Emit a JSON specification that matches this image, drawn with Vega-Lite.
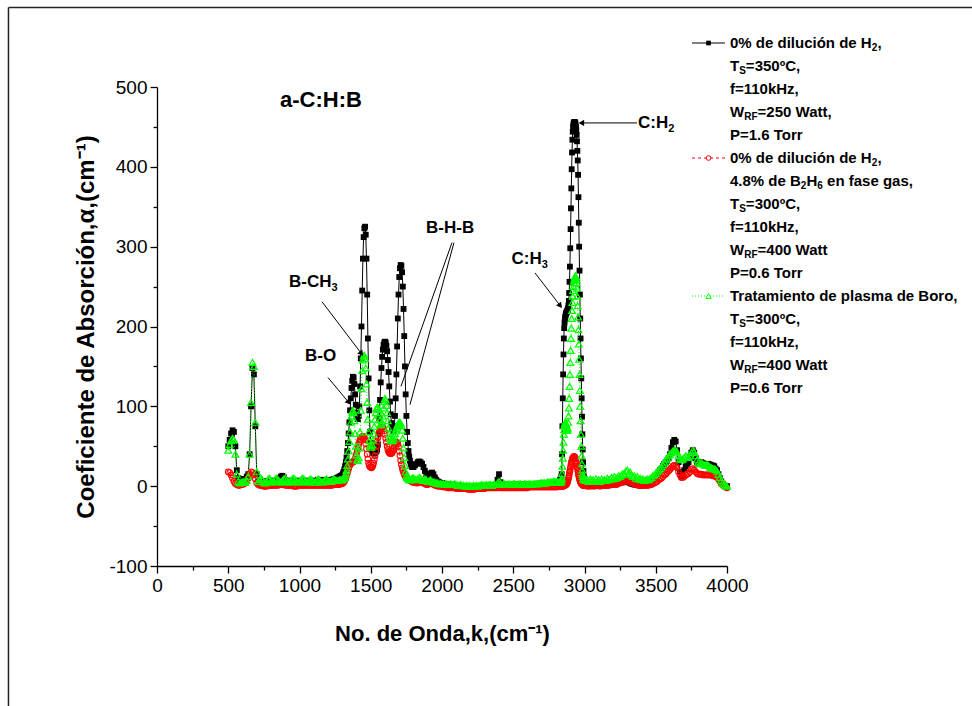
{
  "$schema": "https://vega.github.io/schema/vega-lite/v6.json",
  "width": 570,
  "height": 479,
  "autosize": {"type": "none"},
  "padding": {"left": 157, "top": 87, "right": 245, "bottom": 140},
  "background": "white",
  "config": {
    "font": "Liberation Sans",
    "view": {"stroke": null},
    "text": {"color": "black"}
  },
  "resolve": {"scale": {"x": "independent", "y": "independent"}},
  "datasets": {
    "spectra": [
      {"k":500,"b":50,"r":18,"g":45},{"k":510,"b":58,"r":17,"g":52},{"k":520,"b":66,"r":14,"g":57},{"k":530,"b":70,"r":10,"g":60},
      {"k":540,"b":68,"r":6,"g":58},{"k":550,"b":50,"r":3,"g":40},{"k":560,"b":20,"r":2,"g":15},{"k":570,"b":10,"r":1,"g":6},
      {"k":580,"b":8,"r":1,"g":4},{"k":590,"b":9,"r":2,"g":5},{"k":600,"b":9,"r":2,"g":5},{"k":610,"b":8,"r":3,"g":6},
      {"k":620,"b":9,"r":4,"g":5},{"k":630,"b":12,"r":6,"g":7},{"k":640,"b":15,"r":10,"g":12},{"k":650,"b":40,"r":15,"g":40},
      {"k":660,"b":100,"r":18,"g":105},{"k":670,"b":148,"r":17,"g":155},{"k":680,"b":140,"r":14,"g":150},{"k":690,"b":75,"r":9,"g":80},
      {"k":700,"b":15,"r":4,"g":18},{"k":710,"b":6,"r":2,"g":6},{"k":720,"b":5,"r":1,"g":8},{"k":730,"b":5,"r":1,"g":10},
      {"k":740,"b":6,"r":1,"g":8},{"k":750,"b":5,"r":0,"g":5},{"k":760,"b":5,"r":0,"g":4},{"k":770,"b":6,"r":0,"g":6},
      {"k":780,"b":6,"r":1,"g":9},{"k":790,"b":5,"r":1,"g":10},{"k":800,"b":6,"r":1,"g":7},{"k":810,"b":7,"r":1,"g":5},
      {"k":820,"b":6,"r":1,"g":6},{"k":830,"b":6,"r":1,"g":9},{"k":840,"b":7,"r":1,"g":10},{"k":850,"b":8,"r":1,"g":8},
      {"k":860,"b":10,"r":2,"g":6},{"k":870,"b":12,"r":2,"g":5},{"k":880,"b":13,"r":2,"g":7},{"k":890,"b":11,"r":2,"g":9},
      {"k":900,"b":8,"r":1,"g":10},{"k":910,"b":6,"r":1,"g":8},{"k":920,"b":5,"r":1,"g":6},{"k":930,"b":6,"r":1,"g":5},
      {"k":940,"b":7,"r":1,"g":7},{"k":950,"b":6,"r":1,"g":9},{"k":960,"b":5,"r":0,"g":10},{"k":970,"b":5,"r":0,"g":8},
      {"k":980,"b":6,"r":0,"g":6},{"k":990,"b":7,"r":1,"g":5},{"k":1000,"b":6,"r":1,"g":6},{"k":1010,"b":5,"r":1,"g":8},
      {"k":1020,"b":5,"r":1,"g":10},{"k":1030,"b":6,"r":1,"g":9},{"k":1040,"b":7,"r":1,"g":7},{"k":1050,"b":6,"r":1,"g":5},
      {"k":1060,"b":5,"r":1,"g":6},{"k":1070,"b":6,"r":1,"g":8},{"k":1080,"b":7,"r":1,"g":9},{"k":1090,"b":6,"r":1,"g":7},
      {"k":1100,"b":5,"r":1,"g":5},{"k":1110,"b":6,"r":1,"g":5},{"k":1120,"b":7,"r":1,"g":7},{"k":1130,"b":8,"r":1,"g":9},
      {"k":1140,"b":7,"r":1,"g":8},{"k":1150,"b":6,"r":1,"g":6},{"k":1160,"b":7,"r":1,"g":5},{"k":1170,"b":8,"r":1,"g":6},
      {"k":1180,"b":7,"r":1,"g":8},{"k":1190,"b":6,"r":1,"g":9},{"k":1200,"b":7,"r":1,"g":7},{"k":1210,"b":8,"r":1,"g":6},
      {"k":1220,"b":7,"r":1,"g":6},{"k":1230,"b":8,"r":1,"g":8},{"k":1240,"b":9,"r":2,"g":9},{"k":1250,"b":9,"r":2,"g":8},
      {"k":1260,"b":10,"r":2,"g":7},{"k":1270,"b":11,"r":2,"g":7},{"k":1280,"b":12,"r":2,"g":8},{"k":1290,"b":13,"r":3,"g":8},
      {"k":1300,"b":14,"r":3,"g":8},{"k":1305,"b":16,"r":4,"g":9},{"k":1310,"b":18,"r":5,"g":10},{"k":1315,"b":21,"r":6,"g":11},
      {"k":1320,"b":25,"r":8,"g":13},{"k":1325,"b":30,"r":10,"g":16},{"k":1330,"b":36,"r":13,"g":20},{"k":1335,"b":44,"r":16,"g":26},
      {"k":1340,"b":54,"r":19,"g":34},{"k":1345,"b":66,"r":22,"g":44},{"k":1350,"b":80,"r":25,"g":56},{"k":1355,"b":95,"r":27,"g":68},
      {"k":1360,"b":110,"r":29,"g":80},{"k":1365,"b":123,"r":30,"g":88},{"k":1370,"b":132,"r":30,"g":93},{"k":1375,"b":137,"r":30,"g":95},
      {"k":1380,"b":136,"r":31,"g":92},{"k":1385,"b":128,"r":32,"g":82},{"k":1390,"b":115,"r":34,"g":66},{"k":1395,"b":102,"r":37,"g":50},
      {"k":1400,"b":92,"r":40,"g":39},{"k":1405,"b":86,"r":44,"g":33},{"k":1410,"b":84,"r":48,"g":32},{"k":1415,"b":88,"r":52,"g":36},
      {"k":1420,"b":100,"r":55,"g":48},{"k":1425,"b":125,"r":58,"g":68},{"k":1430,"b":160,"r":60,"g":95},{"k":1435,"b":200,"r":61,"g":122},
      {"k":1440,"b":245,"r":62,"g":145},{"k":1445,"b":285,"r":62,"g":158},{"k":1450,"b":312,"r":62,"g":163},{"k":1455,"b":323,"r":61,"g":164},
      {"k":1460,"b":325,"r":58,"g":160},{"k":1465,"b":315,"r":53,"g":148},{"k":1470,"b":285,"r":47,"g":128},{"k":1475,"b":240,"r":40,"g":105},
      {"k":1480,"b":185,"r":34,"g":84},{"k":1485,"b":135,"r":29,"g":68},{"k":1490,"b":95,"r":26,"g":57},{"k":1495,"b":68,"r":24,"g":51},
      {"k":1500,"b":54,"r":24,"g":49},{"k":1505,"b":47,"r":23,"g":49},{"k":1510,"b":44,"r":24,"g":52},{"k":1515,"b":42,"r":26,"g":58},
      {"k":1520,"b":41,"r":29,"g":66},{"k":1525,"b":41,"r":33,"g":75},{"k":1530,"b":42,"r":38,"g":84},{"k":1535,"b":43,"r":44,"g":92},
      {"k":1540,"b":44,"r":50,"g":97},{"k":1545,"b":46,"r":56,"g":99},{"k":1550,"b":52,"r":61,"g":99},{"k":1555,"b":65,"r":65,"g":96},
      {"k":1560,"b":85,"r":68,"g":90},{"k":1565,"b":108,"r":71,"g":83},{"k":1570,"b":130,"r":73,"g":78},{"k":1575,"b":148,"r":74,"g":77},
      {"k":1580,"b":162,"r":74,"g":80},{"k":1585,"b":171,"r":74,"g":88},{"k":1590,"b":177,"r":72,"g":98},{"k":1595,"b":180,"r":69,"g":106},
      {"k":1600,"b":181,"r":65,"g":110},{"k":1605,"b":180,"r":60,"g":108},{"k":1610,"b":176,"r":55,"g":101},{"k":1615,"b":169,"r":50,"g":92},
      {"k":1620,"b":158,"r":46,"g":82},{"k":1625,"b":143,"r":43,"g":73},{"k":1630,"b":125,"r":42,"g":66},{"k":1635,"b":106,"r":41,"g":61},
      {"k":1640,"b":90,"r":41,"g":58},{"k":1645,"b":79,"r":41,"g":57},{"k":1650,"b":72,"r":42,"g":57},{"k":1655,"b":69,"r":44,"g":58},
      {"k":1660,"b":70,"r":47,"g":60},{"k":1665,"b":75,"r":50,"g":63},{"k":1670,"b":88,"r":52,"g":66},{"k":1675,"b":110,"r":54,"g":69},
      {"k":1680,"b":140,"r":55,"g":72},{"k":1685,"b":175,"r":55,"g":75},{"k":1690,"b":210,"r":53,"g":77},{"k":1695,"b":240,"r":49,"g":79},
      {"k":1700,"b":262,"r":44,"g":80},{"k":1705,"b":273,"r":38,"g":80},{"k":1710,"b":277,"r":32,"g":79},{"k":1715,"b":276,"r":27,"g":76},
      {"k":1720,"b":268,"r":23,"g":70},{"k":1725,"b":250,"r":20,"g":60},{"k":1730,"b":222,"r":17,"g":48},{"k":1735,"b":188,"r":15,"g":36},
      {"k":1740,"b":150,"r":13,"g":26},{"k":1745,"b":115,"r":12,"g":18},{"k":1750,"b":88,"r":11,"g":13},{"k":1755,"b":68,"r":10,"g":11},
      {"k":1760,"b":54,"r":9,"g":10},{"k":1765,"b":44,"r":8,"g":9},{"k":1770,"b":37,"r":8,"g":8},{"k":1775,"b":32,"r":7,"g":8},
      {"k":1780,"b":28,"r":7,"g":8},{"k":1785,"b":26,"r":6,"g":9},{"k":1790,"b":24,"r":6,"g":10},{"k":1795,"b":24,"r":5,"g":10},
      {"k":1800,"b":24,"r":5,"g":10},{"k":1810,"b":26,"r":5,"g":9},{"k":1820,"b":28,"r":4,"g":8},{"k":1830,"b":30,"r":4,"g":9},
      {"k":1840,"b":31,"r":5,"g":11},{"k":1850,"b":30,"r":6,"g":10},{"k":1860,"b":28,"r":5,"g":8},{"k":1870,"b":24,"r":4,"g":7},
      {"k":1880,"b":19,"r":3,"g":9},{"k":1890,"b":15,"r":2,"g":8},{"k":1900,"b":13,"r":2,"g":6},{"k":1910,"b":14,"r":3,"g":7},
      {"k":1920,"b":16,"r":4,"g":8},{"k":1930,"b":17,"r":3,"g":6},{"k":1940,"b":15,"r":2,"g":5},{"k":1950,"b":11,"r":1,"g":5},
      {"k":1960,"b":8,"r":1,"g":4},{"k":1970,"b":6,"r":0,"g":4},{"k":1980,"b":5,"r":0,"g":3},{"k":1990,"b":4,"r":0,"g":3},
      {"k":2000,"b":4,"r":0,"g":3},{"k":2010,"b":3,"r":-1,"g":3},{"k":2020,"b":3,"r":-1,"g":2},{"k":2030,"b":2,"r":-1,"g":3},
      {"k":2040,"b":2,"r":-2,"g":2},{"k":2050,"b":2,"r":-2,"g":2},{"k":2060,"b":2,"r":-2,"g":3},{"k":2070,"b":1,"r":-2,"g":2},
      {"k":2080,"b":1,"r":-2,"g":2},{"k":2090,"b":1,"r":-2,"g":3},{"k":2100,"b":1,"r":-3,"g":2},{"k":2110,"b":0,"r":-3,"g":1},
      {"k":2120,"b":0,"r":-3,"g":1},{"k":2130,"b":0,"r":-3,"g":2},{"k":2140,"b":0,"r":-3,"g":1},{"k":2150,"b":-1,"r":-3,"g":1},
      {"k":2160,"b":-1,"r":-3,"g":0},{"k":2170,"b":-1,"r":-3,"g":1},{"k":2180,"b":-1,"r":-4,"g":0},{"k":2190,"b":-1,"r":-4,"g":1},
      {"k":2200,"b":-1,"r":-4,"g":0},{"k":2210,"b":-1,"r":-4,"g":0},{"k":2220,"b":-1,"r":-4,"g":1},{"k":2230,"b":-1,"r":-4,"g":0},
      {"k":2240,"b":-1,"r":-3,"g":1},{"k":2250,"b":-1,"r":-3,"g":0},{"k":2260,"b":0,"r":-3,"g":1},{"k":2270,"b":0,"r":-3,"g":1},
      {"k":2280,"b":0,"r":-3,"g":2},{"k":2290,"b":0,"r":-3,"g":1},{"k":2300,"b":0,"r":-3,"g":1},{"k":2310,"b":0,"r":-2,"g":2},
      {"k":2320,"b":0,"r":-2,"g":1},{"k":2330,"b":1,"r":-2,"g":2},{"k":2340,"b":1,"r":-2,"g":2},{"k":2350,"b":1,"r":-2,"g":1},
      {"k":2360,"b":1,"r":-2,"g":2},{"k":2370,"b":1,"r":-2,"g":2},{"k":2380,"b":2,"r":-2,"g":2},{"k":2390,"b":8,"r":-2,"g":4},
      {"k":2400,"b":15,"r":-1,"g":6},{"k":2410,"b":5,"r":-2,"g":4},{"k":2420,"b":2,"r":-2,"g":2},{"k":2430,"b":2,"r":-2,"g":2},
      {"k":2440,"b":2,"r":-2,"g":3},{"k":2450,"b":2,"r":-2,"g":2},{"k":2460,"b":1,"r":-2,"g":2},{"k":2470,"b":1,"r":-2,"g":3},
      {"k":2480,"b":2,"r":-2,"g":2},{"k":2490,"b":2,"r":-2,"g":2},{"k":2500,"b":2,"r":-2,"g":3},{"k":2510,"b":2,"r":-2,"g":3},
      {"k":2520,"b":2,"r":-2,"g":2},{"k":2530,"b":1,"r":-2,"g":2},{"k":2540,"b":2,"r":-2,"g":3},{"k":2550,"b":2,"r":-2,"g":3},
      {"k":2560,"b":2,"r":-2,"g":2},{"k":2570,"b":2,"r":-2,"g":2},{"k":2580,"b":2,"r":-2,"g":3},{"k":2590,"b":2,"r":-2,"g":3},
      {"k":2600,"b":2,"r":-2,"g":2},{"k":2610,"b":2,"r":-1,"g":3},{"k":2620,"b":2,"r":-1,"g":3},{"k":2630,"b":2,"r":-1,"g":2},
      {"k":2640,"b":2,"r":-1,"g":3},{"k":2650,"b":2,"r":-1,"g":3},{"k":2660,"b":2,"r":-1,"g":3},{"k":2670,"b":3,"r":-1,"g":3},
      {"k":2680,"b":3,"r":-1,"g":3},{"k":2690,"b":3,"r":-1,"g":4},{"k":2700,"b":3,"r":-1,"g":4},{"k":2710,"b":3,"r":-1,"g":4},
      {"k":2720,"b":3,"r":-1,"g":4},{"k":2730,"b":3,"r":-1,"g":4},{"k":2740,"b":3,"r":-1,"g":5},{"k":2750,"b":3,"r":-1,"g":5},
      {"k":2760,"b":3,"r":-1,"g":5},{"k":2770,"b":3,"r":-1,"g":5},{"k":2780,"b":3,"r":-1,"g":6},{"k":2790,"b":3,"r":-1,"g":6},
      {"k":2800,"b":3,"r":-1,"g":6},{"k":2810,"b":4,"r":-1,"g":5},{"k":2820,"b":5,"r":0,"g":5},
      {"k":2830,"b":8,"r":0,"g":5},{"k":2832.5,"b":9,"r":0,"g":5},{"k":2835,"b":10,"r":0,"g":6},{"k":2837.5,"b":12,"r":0,"g":8},
      {"k":2840,"b":15,"r":0,"g":10},{"k":2842.5,"b":40,"r":0,"g":16},{"k":2845,"b":75,"r":0,"g":25},{"k":2847.5,"b":110,"r":0,"g":35},
      {"k":2850,"b":140,"r":0,"g":45},{"k":2852.5,"b":165,"r":1,"g":55},{"k":2855,"b":185,"r":1,"g":65},{"k":2857.5,"b":198,"r":1,"g":71},
      {"k":2860,"b":205,"r":1,"g":76},{"k":2862.5,"b":209,"r":1,"g":78},{"k":2865,"b":212,"r":1,"g":80},{"k":2867.5,"b":214,"r":2,"g":79},
      {"k":2870,"b":216,"r":2,"g":78},{"k":2872.5,"b":217,"r":2,"g":75},{"k":2875,"b":218,"r":3,"g":72},{"k":2877.5,"b":219,"r":4,"g":70},
      {"k":2880,"b":220,"r":5,"g":70},{"k":2882.5,"b":221,"r":6,"g":73},{"k":2885,"b":223,"r":8,"g":80},{"k":2887.5,"b":226,"r":10,"g":88},
      {"k":2890,"b":232,"r":12,"g":98},{"k":2892.5,"b":242,"r":14,"g":110},{"k":2895,"b":256,"r":17,"g":125},{"k":2897.5,"b":275,"r":19,"g":140},
      {"k":2900,"b":298,"r":22,"g":155},{"k":2902.5,"b":322,"r":24,"g":170},{"k":2905,"b":348,"r":27,"g":185},{"k":2907.5,"b":373,"r":29,"g":198},
      {"k":2910,"b":397,"r":31,"g":210},{"k":2912.5,"b":418,"r":32,"g":220},{"k":2915,"b":434,"r":34,"g":230},{"k":2917.5,"b":444,"r":35,"g":238},
      {"k":2920,"b":450,"r":36,"g":245},{"k":2922.5,"b":453,"r":36,"g":250},{"k":2925,"b":455,"r":37,"g":255},{"k":2927.5,"b":456,"r":37,"g":258},
      {"k":2930,"b":456,"r":37,"g":260},{"k":2932.5,"b":456,"r":36,"g":262},{"k":2935,"b":455,"r":35,"g":263},{"k":2937.5,"b":453,"r":34,"g":263},
      {"k":2940,"b":450,"r":32,"g":262},{"k":2942.5,"b":446,"r":30,"g":259},{"k":2945,"b":440,"r":28,"g":255},{"k":2947.5,"b":432,"r":25,"g":248},
      {"k":2950,"b":420,"r":23,"g":238},{"k":2952.5,"b":408,"r":20,"g":226},{"k":2955,"b":390,"r":18,"g":212},{"k":2957.5,"b":362,"r":15,"g":196},
      {"k":2960,"b":330,"r":13,"g":178},{"k":2962.5,"b":300,"r":11,"g":159},{"k":2965,"b":270,"r":9,"g":140},{"k":2967.5,"b":240,"r":7,"g":120},
      {"k":2970,"b":210,"r":6,"g":100},{"k":2972.5,"b":185,"r":5,"g":82},{"k":2975,"b":160,"r":4,"g":65},{"k":2977.5,"b":135,"r":3,"g":50},
      {"k":2980,"b":110,"r":3,"g":38},{"k":2982.5,"b":87,"r":2,"g":28},{"k":2985,"b":65,"r":2,"g":20},{"k":2987.5,"b":46,"r":1,"g":15},
      {"k":2990,"b":30,"r":1,"g":12},{"k":2992.5,"b":19,"r":1,"g":10},{"k":2995,"b":12,"r":1,"g":9},{"k":2997.5,"b":8,"r":1,"g":8},
      {"k":3000,"b":5,"r":1,"g":8},
      {"k":3010,"b":2,"r":1,"g":7},{"k":3020,"b":1,"r":0,"g":8},{"k":3030,"b":1,"r":0,"g":6},{"k":3040,"b":2,"r":1,"g":9},
      {"k":3050,"b":1,"r":0,"g":7},{"k":3060,"b":2,"r":1,"g":8},{"k":3070,"b":1,"r":0,"g":6},{"k":3080,"b":2,"r":1,"g":9},
      {"k":3090,"b":1,"r":1,"g":7},{"k":3100,"b":2,"r":1,"g":8},{"k":3110,"b":1,"r":0,"g":6},{"k":3120,"b":2,"r":1,"g":9},
      {"k":3130,"b":2,"r":1,"g":7},{"k":3140,"b":1,"r":1,"g":8},{"k":3150,"b":2,"r":1,"g":7},{"k":3160,"b":2,"r":1,"g":10},
      {"k":3170,"b":1,"r":1,"g":8},{"k":3180,"b":2,"r":2,"g":9},{"k":3190,"b":2,"r":2,"g":11},{"k":3200,"b":3,"r":2,"g":9},
      {"k":3210,"b":3,"r":3,"g":12},{"k":3220,"b":2,"r":2,"g":10},{"k":3230,"b":3,"r":3,"g":11},{"k":3240,"b":4,"r":4,"g":13},
      {"k":3250,"b":4,"r":4,"g":12},{"k":3260,"b":5,"r":5,"g":14},{"k":3270,"b":5,"r":5,"g":16},{"k":3280,"b":6,"r":6,"g":15},
      {"k":3290,"b":6,"r":7,"g":19},{"k":3300,"b":5,"r":7,"g":20},{"k":3310,"b":5,"r":6,"g":16},{"k":3320,"b":4,"r":5,"g":18},
      {"k":3330,"b":3,"r":4,"g":14},{"k":3340,"b":3,"r":4,"g":12},{"k":3350,"b":2,"r":3,"g":13},{"k":3360,"b":2,"r":2,"g":10},
      {"k":3370,"b":2,"r":2,"g":12},{"k":3380,"b":1,"r":1,"g":9},{"k":3390,"b":1,"r":1,"g":10},{"k":3400,"b":1,"r":1,"g":8},
      {"k":3410,"b":1,"r":1,"g":9},{"k":3420,"b":1,"r":1,"g":7},{"k":3430,"b":2,"r":1,"g":8},{"k":3440,"b":2,"r":1,"g":9},
      {"k":3450,"b":3,"r":1,"g":8},{"k":3460,"b":4,"r":2,"g":10},{"k":3470,"b":6,"r":2,"g":11},{"k":3480,"b":8,"r":3,"g":13},
      {"k":3490,"b":10,"r":4,"g":14},{"k":3500,"b":12,"r":5,"g":16},{"k":3510,"b":15,"r":6,"g":18},{"k":3520,"b":18,"r":8,"g":20},
      {"k":3530,"b":20,"r":9,"g":22},{"k":3540,"b":22,"r":10,"g":24},{"k":3550,"b":25,"r":12,"g":27},{"k":3560,"b":28,"r":14,"g":30},
      {"k":3570,"b":30,"r":15,"g":33},{"k":3580,"b":32,"r":17,"g":35},{"k":3590,"b":35,"r":19,"g":38},{"k":3600,"b":40,"r":21,"g":40},
      {"k":3610,"b":48,"r":23,"g":42},{"k":3620,"b":55,"r":25,"g":44},{"k":3630,"b":58,"r":26,"g":45},{"k":3640,"b":56,"r":25,"g":45},
      {"k":3650,"b":45,"r":23,"g":43},{"k":3660,"b":30,"r":18,"g":38},{"k":3670,"b":18,"r":14,"g":34},{"k":3680,"b":12,"r":11,"g":33},
      {"k":3690,"b":14,"r":11,"g":34},{"k":3700,"b":20,"r":12,"g":36},{"k":3710,"b":25,"r":14,"g":38},{"k":3720,"b":28,"r":15,"g":37},
      {"k":3730,"b":30,"r":16,"g":36},{"k":3740,"b":35,"r":18,"g":38},{"k":3750,"b":42,"r":21,"g":42},{"k":3760,"b":45,"r":22,"g":45},
      {"k":3770,"b":42,"r":20,"g":43},{"k":3780,"b":35,"r":18,"g":38},{"k":3790,"b":30,"r":16,"g":33},{"k":3800,"b":28,"r":15,"g":30},
      {"k":3810,"b":29,"r":15,"g":28},{"k":3820,"b":30,"r":15,"g":29},{"k":3830,"b":29,"r":14,"g":28},{"k":3840,"b":27,"r":14,"g":27},
      {"k":3850,"b":26,"r":14,"g":26},{"k":3860,"b":27,"r":14,"g":27},{"k":3870,"b":28,"r":14,"g":26},{"k":3880,"b":27,"r":14,"g":24},
      {"k":3890,"b":26,"r":14,"g":23},{"k":3900,"b":26,"r":13,"g":22},{"k":3910,"b":25,"r":13,"g":22},{"k":3920,"b":22,"r":12,"g":21},
      {"k":3930,"b":20,"r":11,"g":19},{"k":3940,"b":15,"r":9,"g":15},{"k":3950,"b":10,"r":6,"g":11},{"k":3960,"b":6,"r":3,"g":7},
      {"k":3970,"b":3,"r":1,"g":4},{"k":3980,"b":1,"r":0,"g":2},{"k":3990,"b":0,"r":-1,"g":1},{"k":4000,"b":0,"r":-2,"g":0}
    ],
    "legend": [
      {"i":1,"a":"0% de dilución de H","s":"2","b":","},
      {"i":2,"a":"T","s":"S","b":"=350ºC,"},
      {"i":3,"a":"f=110kHz,"},
      {"i":4,"a":"W","s":"RF","b":"=250 Watt,"},
      {"i":5,"a":"P=1.6 Torr"},
      {"i":6,"a":"0% de dilución de H","s":"2","b":","},
      {"i":7,"a":"4.8% de B","s":"2","b":"H","s2":"6","c":"en fase gas,"},
      {"i":8,"a":"T","s":"S","b":"=300ºC,"},
      {"i":9,"a":"f=110kHz,"},
      {"i":10,"a":"W","s":"RF","b":"=400 Watt"},
      {"i":11,"a":"P=0.6 Torr"},
      {"i":12,"a":"Tratamiento de plasma de Boro,"},
      {"i":13,"a":"T","s":"S","b":"=300ºC,"},
      {"i":14,"a":"f=110kHz,"},
      {"i":15,"a":"W","s":"RF","b":"=400 Watt"},
      {"i":16,"a":"P=0.6 Torr"}
    ],
    "keys": [{"i": 1, "c": "black"}, {"i": 6, "c": "red"}, {"i": 12, "c": "green"}]
  },
  "layer": [
    {
      "data": {"name": "spectra"},
      "mark": {"type": "line", "color": "black", "strokeWidth": 1},
      "encoding": {
        "x": {
          "field": "k", "type": "quantitative",
          "scale": {"domain": [0, 4000], "nice": false, "zero": false},
          "axis": {
            "title": "No. de Onda,k,(cm⁻¹)", "orient": "bottom",
            "values": [0, 500, 1000, 1500, 2000, 2500, 3000, 3500, 4000],
            "format": "d", "tickSize": 7,
            "labelFlush": false, "labelOverlap": false, "grid": false,
            "labelFontSize": 19, "labelColor": "black", "labelPadding": 3,
            "titleFontSize": 22, "titleFontWeight": "bold", "titleColor": "black", "titlePadding": 28,
            "domainColor": "black", "domainWidth": 1.3, "tickColor": "black", "tickWidth": 1.3
          }
        },
        "y": {
          "field": "b", "type": "quantitative",
          "scale": {"domain": [-100, 500], "nice": false, "zero": false},
          "axis": {
            "title": "Coeficiente de Absorción,α,(cm⁻¹)", "orient": "left",
            "values": [-100, 0, 100, 200, 300, 400, 500],
            "labelExpr": "'' + datum.value", "tickSize": 7,
            "labelOverlap": false, "grid": false,
            "labelFontSize": 19, "labelColor": "black", "labelPadding": 3,
            "titleFontSize": 24, "titleFontWeight": "bold", "titleColor": "black", "titlePadding": 10,
            "domainColor": "black", "domainWidth": 1.3, "tickColor": "black", "tickWidth": 1.3
          }
        }
      }
    },
    {
      "data": {"name": "spectra"},
      "mark": {"type": "point", "opacity": 0},
      "encoding": {
        "x": {
          "field": "k", "type": "quantitative",
          "scale": {"domain": [0, 4000], "nice": false, "zero": false},
          "axis": {"orient": "bottom", "title": null, "values": [250, 750, 1250, 1750, 2250, 2750, 3250, 3750], "labels": false, "domain": false, "grid": false, "tickSize": 4, "tickColor": "black", "tickWidth": 1.3}
        },
        "y": {
          "field": "b", "type": "quantitative",
          "scale": {"domain": [-100, 500], "nice": false, "zero": false},
          "axis": {"orient": "left", "title": null, "values": [-50, 50, 150, 250, 350, 450], "labels": false, "domain": false, "grid": false, "tickSize": 4, "tickColor": "black", "tickWidth": 1.3}
        }
      }
    },
    {
      "data": {"name": "spectra"},
      "mark": {"type": "point", "shape": "square", "filled": true, "color": "black", "size": 34, "opacity": 1},
      "encoding": {
        "x": {"field": "k", "type": "quantitative", "scale": {"domain": [0, 4000], "nice": false, "zero": false}, "axis": null},
        "y": {"field": "b", "type": "quantitative", "scale": {"domain": [-100, 500], "nice": false, "zero": false}, "axis": null}
      }
    },
    {
      "data": {"name": "spectra"},
      "mark": {"type": "line", "color": "#FF0000", "strokeWidth": 1, "strokeDash": [4, 3]},
      "encoding": {
        "x": {"field": "k", "type": "quantitative", "scale": {"domain": [0, 4000], "nice": false, "zero": false}, "axis": null},
        "y": {"field": "r", "type": "quantitative", "scale": {"domain": [-100, 500], "nice": false, "zero": false}, "axis": null}
      }
    },
    {
      "data": {"name": "spectra"},
      "mark": {"type": "point", "shape": "circle", "filled": false, "color": "#FF0000", "size": 32, "strokeWidth": 1.1, "opacity": 1},
      "encoding": {
        "x": {"field": "k", "type": "quantitative", "scale": {"domain": [0, 4000], "nice": false, "zero": false}, "axis": null},
        "y": {"field": "r", "type": "quantitative", "scale": {"domain": [-100, 500], "nice": false, "zero": false}, "axis": null}
      }
    },
    {
      "data": {"name": "spectra"},
      "mark": {"type": "line", "color": "#00FF00", "strokeWidth": 1, "strokeDash": [1, 2]},
      "encoding": {
        "x": {"field": "k", "type": "quantitative", "scale": {"domain": [0, 4000], "nice": false, "zero": false}, "axis": null},
        "y": {"field": "g", "type": "quantitative", "scale": {"domain": [-100, 500], "nice": false, "zero": false}, "axis": null}
      }
    },
    {
      "data": {"name": "spectra"},
      "mark": {"type": "point", "shape": "triangle-up", "filled": false, "color": "#00FF00", "size": 46, "strokeWidth": 1.2, "opacity": 1},
      "encoding": {
        "x": {"field": "k", "type": "quantitative", "scale": {"domain": [0, 4000], "nice": false, "zero": false}, "axis": null},
        "y": {"field": "g", "type": "quantitative", "scale": {"domain": [-100, 500], "nice": false, "zero": false}, "axis": null}
      }
    },
    {
      "data": {"values": [
        {"k": 3368, "a": 455, "k2": 2978, "a2": 455},
        {"k": 2653, "a": 267, "k2": 2830, "a2": 226},
        {"k": 1158, "a": 231, "k2": 1435, "a2": 166},
        {"k": 1200, "a": 136, "k2": 1345, "a2": 105},
        {"k": 2070, "a": 305, "k2": 1712, "a2": 125},
        {"k": 2084, "a": 305, "k2": 1775, "a2": 102}
      ]},
      "mark": {"type": "rule", "color": "black", "strokeWidth": 1},
      "encoding": {
        "x": {"field": "k", "type": "quantitative", "scale": {"domain": [0, 4000], "nice": false, "zero": false}, "axis": null},
        "y": {"field": "a", "type": "quantitative", "scale": {"domain": [-100, 500], "nice": false, "zero": false}, "axis": null},
        "x2": {"field": "k2"},
        "y2": {"field": "a2"}
      }
    },
    {
      "data": {"values": [{"k": 2978, "a": 455}]},
      "mark": {"type": "point", "shape": "triangle-left", "filled": true, "color": "black", "size": 40, "opacity": 1},
      "encoding": {
        "x": {"field": "k", "type": "quantitative", "scale": {"domain": [0, 4000], "nice": false, "zero": false}, "axis": null},
        "y": {"field": "a", "type": "quantitative", "scale": {"domain": [-100, 500], "nice": false, "zero": false}, "axis": null}
      }
    },
    {
      "data": {"values": [{"k": 2830, "a": 226}, {"k": 1435, "a": 166}, {"k": 1345, "a": 105}]},
      "mark": {"type": "point", "shape": "triangle-up", "filled": true, "color": "black", "size": 40, "angle": 142, "opacity": 1},
      "encoding": {
        "x": {"field": "k", "type": "quantitative", "scale": {"domain": [0, 4000], "nice": false, "zero": false}, "axis": null},
        "y": {"field": "a", "type": "quantitative", "scale": {"domain": [-100, 500], "nice": false, "zero": false}, "axis": null}
      }
    },
    {
      "data": {"values": [
        {"k": 1039, "a": 163, "t": "B-O"},
        {"k": 926, "a": 256, "t": "B-CH", "s": "3"},
        {"k": 1888, "a": 323, "t": "B-H-B"},
        {"k": 2488, "a": 284, "t": "C:H", "s": "3"},
        {"k": 3375, "a": 455, "t": "C:H", "s": "2"}
      ]},
      "mark": {"type": "text", "align": "left", "baseline": "middle", "fontSize": 17, "fontWeight": "bold"},
      "encoding": {
        "x": {"field": "k", "type": "quantitative", "scale": {"domain": [0, 4000], "nice": false, "zero": false}, "axis": null},
        "y": {"field": "a", "type": "quantitative", "scale": {"domain": [-100, 500], "nice": false, "zero": false}, "axis": null},
        "text": {"field": "t"}
      }
    },
    {
      "data": {"values": [{"k": 926, "a": 256, "s": "3"}]},
      "mark": {"type": "text", "align": "left", "baseline": "middle", "fontSize": 11, "fontWeight": "bold", "dx": 42.5, "dy": 6},
      "encoding": {
        "x": {"field": "k", "type": "quantitative", "scale": {"domain": [0, 4000], "nice": false, "zero": false}, "axis": null},
        "y": {"field": "a", "type": "quantitative", "scale": {"domain": [-100, 500], "nice": false, "zero": false}, "axis": null},
        "text": {"field": "s"}
      }
    },
    {
      "data": {"values": [{"k": 2488, "a": 284, "s": "3"}, {"k": 3375, "a": 455, "s": "2"}]},
      "mark": {"type": "text", "align": "left", "baseline": "middle", "fontSize": 11, "fontWeight": "bold", "dx": 30.2, "dy": 6},
      "encoding": {
        "x": {"field": "k", "type": "quantitative", "scale": {"domain": [0, 4000], "nice": false, "zero": false}, "axis": null},
        "y": {"field": "a", "type": "quantitative", "scale": {"domain": [-100, 500], "nice": false, "zero": false}, "axis": null},
        "text": {"field": "s"}
      }
    },
    {
      "data": {"values": [{"k": 863, "a": 484, "t": "a-C:H:B"}]},
      "mark": {"type": "text", "align": "left", "baseline": "middle", "fontSize": 22, "fontWeight": "bold"},
      "encoding": {
        "x": {"field": "k", "type": "quantitative", "scale": {"domain": [0, 4000], "nice": false, "zero": false}, "axis": null},
        "y": {"field": "a", "type": "quantitative", "scale": {"domain": [-100, 500], "nice": false, "zero": false}, "axis": null},
        "text": {"field": "t"}
      }
    },
    {
      "data": {"values": [{"x": -20.71, "x2": 8.6, "y": -0.54, "y2": -0.54}, {"x": -20.71, "x2": -20.71, "y": -0.54, "y2": 30}]},
      "mark": {"type": "rule", "color": "#222222", "strokeWidth": 1.5},
      "encoding": {
        "x": {"field": "x", "type": "quantitative", "scale": {"domain": [-16.21, 1.06], "nice": false, "zero": false}, "axis": null},
        "x2": {"field": "x2"},
        "y": {"field": "y", "type": "quantitative", "scale": {"domain": [2.913, 23.739], "reverse": true, "nice": false, "zero": false}, "axis": null},
        "y2": {"field": "y2"}
      }
    },
    {
      "data": {"name": "keys"},
      "transform": [{"filter": "datum.c === 'black'"}],
      "mark": {"type": "rule", "color": "black", "strokeWidth": 1},
      "encoding": {
        "x": {"datum": 0, "type": "quantitative", "scale": {"domain": [-16.21, 1.06], "nice": false, "zero": false}, "axis": null},
        "x2": {"datum": 1},
        "y": {"field": "i", "type": "quantitative", "scale": {"domain": [2.913, 23.739], "reverse": true, "nice": false, "zero": false}, "axis": null}
      }
    },
    {
      "data": {"name": "keys"},
      "transform": [{"filter": "datum.c === 'red'"}],
      "mark": {"type": "rule", "color": "#FF0000", "strokeWidth": 1, "strokeDash": [3, 3]},
      "encoding": {
        "x": {"datum": 0, "type": "quantitative", "scale": {"domain": [-16.21, 1.06], "nice": false, "zero": false}, "axis": null},
        "x2": {"datum": 1},
        "y": {"field": "i", "type": "quantitative", "scale": {"domain": [2.913, 23.739], "reverse": true, "nice": false, "zero": false}, "axis": null}
      }
    },
    {
      "data": {"name": "keys"},
      "transform": [{"filter": "datum.c === 'green'"}],
      "mark": {"type": "rule", "color": "#00FF00", "strokeWidth": 1, "strokeDash": [1, 2]},
      "encoding": {
        "x": {"datum": 0, "type": "quantitative", "scale": {"domain": [-16.21, 1.06], "nice": false, "zero": false}, "axis": null},
        "x2": {"datum": 1},
        "y": {"field": "i", "type": "quantitative", "scale": {"domain": [2.913, 23.739], "reverse": true, "nice": false, "zero": false}, "axis": null}
      }
    },
    {
      "data": {"name": "keys"},
      "transform": [{"filter": "datum.c === 'black'"}],
      "mark": {"type": "point", "shape": "square", "filled": true, "color": "black", "size": 22, "opacity": 1},
      "encoding": {
        "x": {"datum": 0.5, "type": "quantitative", "scale": {"domain": [-16.21, 1.06], "nice": false, "zero": false}, "axis": null},
        "y": {"field": "i", "type": "quantitative", "scale": {"domain": [2.913, 23.739], "reverse": true, "nice": false, "zero": false}, "axis": null}
      }
    },
    {
      "data": {"name": "keys"},
      "transform": [{"filter": "datum.c === 'red'"}],
      "mark": {"type": "point", "shape": "circle", "filled": false, "color": "#FF0000", "fill": "white", "size": 22, "strokeWidth": 1, "opacity": 1},
      "encoding": {
        "x": {"datum": 0.5, "type": "quantitative", "scale": {"domain": [-16.21, 1.06], "nice": false, "zero": false}, "axis": null},
        "y": {"field": "i", "type": "quantitative", "scale": {"domain": [2.913, 23.739], "reverse": true, "nice": false, "zero": false}, "axis": null}
      }
    },
    {
      "data": {"name": "keys"},
      "transform": [{"filter": "datum.c === 'green'"}],
      "mark": {"type": "point", "shape": "triangle-up", "filled": false, "color": "#00FF00", "fill": "white", "size": 30, "strokeWidth": 1, "opacity": 1},
      "encoding": {
        "x": {"datum": 0.5, "type": "quantitative", "scale": {"domain": [-16.21, 1.06], "nice": false, "zero": false}, "axis": null},
        "y": {"field": "i", "type": "quantitative", "scale": {"domain": [2.913, 23.739], "reverse": true, "nice": false, "zero": false}, "axis": null}
      }
    },
    {
      "data": {"name": "legend"},
      "mark": {"type": "text", "align": "left", "baseline": "middle", "fontSize": 15, "fontWeight": "bold"},
      "encoding": {
        "x": {"datum": 1.15, "type": "quantitative", "scale": {"domain": [-16.21, 1.06], "nice": false, "zero": false}, "axis": null},
        "y": {"field": "i", "type": "quantitative", "scale": {"domain": [2.913, 23.739], "reverse": true, "nice": false, "zero": false}, "axis": null},
        "text": {"field": "a"}
      }
    },
    {
      "data": {"name": "legend"},
      "transform": [{"filter": "datum.a === 'T'"}],
      "mark": {"type": "text", "align": "left", "baseline": "middle", "fontSize": 10, "fontWeight": "bold", "dx": 9.2, "dy": 5},
      "encoding": {
        "x": {"datum": 1.15, "type": "quantitative", "scale": {"domain": [-16.21, 1.06], "nice": false, "zero": false}, "axis": null},
        "y": {"field": "i", "type": "quantitative", "scale": {"domain": [2.913, 23.739], "reverse": true, "nice": false, "zero": false}, "axis": null},
        "text": {"field": "s"}
      }
    },
    {
      "data": {"name": "legend"},
      "transform": [{"filter": "datum.a === 'T'"}],
      "mark": {"type": "text", "align": "left", "baseline": "middle", "fontSize": 15, "fontWeight": "bold", "dx": 15.9},
      "encoding": {
        "x": {"datum": 1.15, "type": "quantitative", "scale": {"domain": [-16.21, 1.06], "nice": false, "zero": false}, "axis": null},
        "y": {"field": "i", "type": "quantitative", "scale": {"domain": [2.913, 23.739], "reverse": true, "nice": false, "zero": false}, "axis": null},
        "text": {"field": "b"}
      }
    },
    {
      "data": {"name": "legend"},
      "transform": [{"filter": "datum.a === 'W'"}],
      "mark": {"type": "text", "align": "left", "baseline": "middle", "fontSize": 10, "fontWeight": "bold", "dx": 14.2, "dy": 5},
      "encoding": {
        "x": {"datum": 1.15, "type": "quantitative", "scale": {"domain": [-16.21, 1.06], "nice": false, "zero": false}, "axis": null},
        "y": {"field": "i", "type": "quantitative", "scale": {"domain": [2.913, 23.739], "reverse": true, "nice": false, "zero": false}, "axis": null},
        "text": {"field": "s"}
      }
    },
    {
      "data": {"name": "legend"},
      "transform": [{"filter": "datum.a === 'W'"}],
      "mark": {"type": "text", "align": "left", "baseline": "middle", "fontSize": 15, "fontWeight": "bold", "dx": 27.6},
      "encoding": {
        "x": {"datum": 1.15, "type": "quantitative", "scale": {"domain": [-16.21, 1.06], "nice": false, "zero": false}, "axis": null},
        "y": {"field": "i", "type": "quantitative", "scale": {"domain": [2.913, 23.739], "reverse": true, "nice": false, "zero": false}, "axis": null},
        "text": {"field": "b"}
      }
    },
    {
      "data": {"name": "legend"},
      "transform": [{"filter": "datum.a === '0% de dilución de H'"}],
      "mark": {"type": "text", "align": "left", "baseline": "middle", "fontSize": 10, "fontWeight": "bold", "dx": 141.8, "dy": 5},
      "encoding": {
        "x": {"datum": 1.15, "type": "quantitative", "scale": {"domain": [-16.21, 1.06], "nice": false, "zero": false}, "axis": null},
        "y": {"field": "i", "type": "quantitative", "scale": {"domain": [2.913, 23.739], "reverse": true, "nice": false, "zero": false}, "axis": null},
        "text": {"field": "s"}
      }
    },
    {
      "data": {"name": "legend"},
      "transform": [{"filter": "datum.a === '0% de dilución de H'"}],
      "mark": {"type": "text", "align": "left", "baseline": "middle", "fontSize": 15, "fontWeight": "bold", "dx": 147.5},
      "encoding": {
        "x": {"datum": 1.15, "type": "quantitative", "scale": {"domain": [-16.21, 1.06], "nice": false, "zero": false}, "axis": null},
        "y": {"field": "i", "type": "quantitative", "scale": {"domain": [2.913, 23.739], "reverse": true, "nice": false, "zero": false}, "axis": null},
        "text": {"field": "b"}
      }
    },
    {
      "data": {"name": "legend"},
      "transform": [{"filter": "datum.a === '4.8% de B'"}],
      "mark": {"type": "text", "align": "left", "baseline": "middle", "fontSize": 10, "fontWeight": "bold", "dx": 70.9, "dy": 5},
      "encoding": {
        "x": {"datum": 1.15, "type": "quantitative", "scale": {"domain": [-16.21, 1.06], "nice": false, "zero": false}, "axis": null},
        "y": {"field": "i", "type": "quantitative", "scale": {"domain": [2.913, 23.739], "reverse": true, "nice": false, "zero": false}, "axis": null},
        "text": {"field": "s"}
      }
    },
    {
      "data": {"name": "legend"},
      "transform": [{"filter": "datum.a === '4.8% de B'"}],
      "mark": {"type": "text", "align": "left", "baseline": "middle", "fontSize": 15, "fontWeight": "bold", "dx": 76.5},
      "encoding": {
        "x": {"datum": 1.15, "type": "quantitative", "scale": {"domain": [-16.21, 1.06], "nice": false, "zero": false}, "axis": null},
        "y": {"field": "i", "type": "quantitative", "scale": {"domain": [2.913, 23.739], "reverse": true, "nice": false, "zero": false}, "axis": null},
        "text": {"field": "b"}
      }
    },
    {
      "data": {"name": "legend"},
      "transform": [{"filter": "datum.a === '4.8% de B'"}],
      "mark": {"type": "text", "align": "left", "baseline": "middle", "fontSize": 10, "fontWeight": "bold", "dx": 87.3, "dy": 5},
      "encoding": {
        "x": {"datum": 1.15, "type": "quantitative", "scale": {"domain": [-16.21, 1.06], "nice": false, "zero": false}, "axis": null},
        "y": {"field": "i", "type": "quantitative", "scale": {"domain": [2.913, 23.739], "reverse": true, "nice": false, "zero": false}, "axis": null},
        "text": {"field": "s2"}
      }
    },
    {
      "data": {"name": "legend"},
      "transform": [{"filter": "datum.a === '4.8% de B'"}],
      "mark": {"type": "text", "align": "left", "baseline": "middle", "fontSize": 15, "fontWeight": "bold", "dx": 97.1},
      "encoding": {
        "x": {"datum": 1.15, "type": "quantitative", "scale": {"domain": [-16.21, 1.06], "nice": false, "zero": false}, "axis": null},
        "y": {"field": "i", "type": "quantitative", "scale": {"domain": [2.913, 23.739], "reverse": true, "nice": false, "zero": false}, "axis": null},
        "text": {"field": "c"}
      }
    }
  ]
}
